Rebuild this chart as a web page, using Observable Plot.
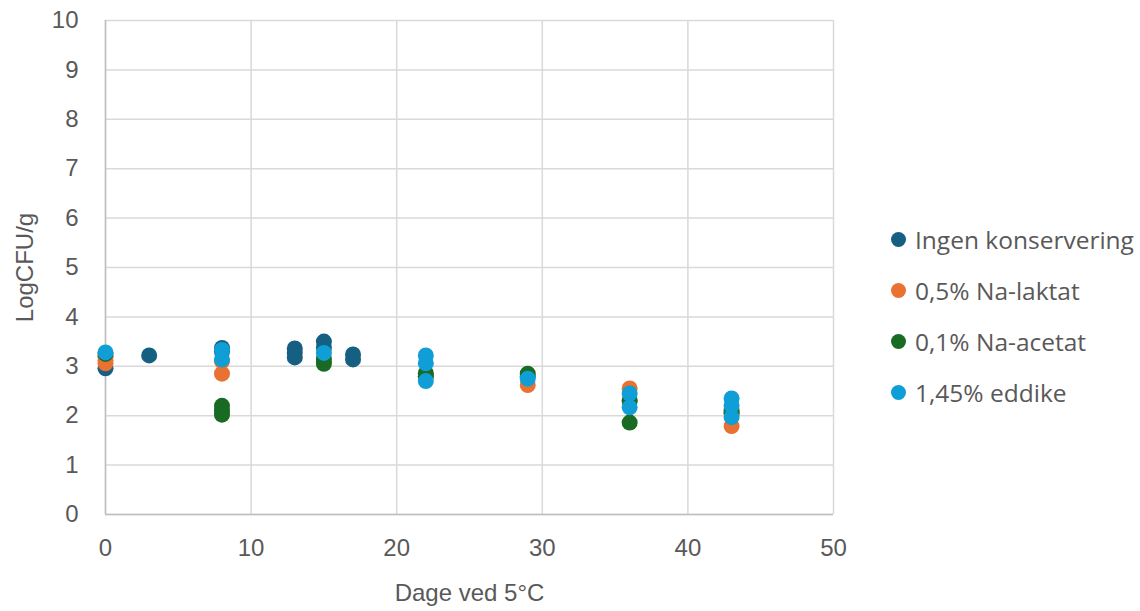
<!DOCTYPE html>
<html><head><meta charset="utf-8">
<script src="https://cdn.jsdelivr.net/npm/d3@7"></script>
<script src="https://cdn.jsdelivr.net/npm/@observablehq/plot@0.6"></script>
<style>
body{margin:0;background:#fff;}
#wrap{position:relative;width:1140px;height:611px;font-family:"Liberation Sans",Arial,sans-serif;}
#legend{position:absolute;left:891px;top:214px;font-family:"Open Sans","Noto Sans",sans-serif;font-size:24.5px;color:#595959;}
.li{display:flex;align-items:center;height:51px;white-space:nowrap;}
.sw{width:15px;height:15px;border-radius:50%;margin-right:9px;}
</style></head><body>
<div id="wrap"><div id="chart"></div><div id="legend"></div></div>
<script>
const seriesNames = ["Ingen konservering","0,5% Na-laktat","0,1% Na-acetat","1,45% eddike"];
const seriesColors = ["#156082","#E97132","#196B24","#0F9ED5"];

const ingenDays = [0,0,3,8,8,13,13,13,15,15,17,17];
const ingenVals = [2.96,3.2,3.22,3.37,3.3,3.36,3.27,3.18,3.5,3.38,3.24,3.14];

const laktatDays = [0,0,8,8,15,22,29,36,36,43,43];
const laktatVals = [3.06,3.12,2.85,3.1,3.1,2.8,2.62,2.55,2.3,1.79,2.05];

const acetatDays = [0,8,8,8,15,15,22,22,29,29,36,36,43,43];
const acetatVals = [3.25,2.2,2.1,2.02,3.05,3.15,2.86,2.8,2.85,2.8,1.86,2.3,2.05,2.1];

const eddikeDays = [0,8,8,15,22,22,22,29,36,36,43,43,43];
const eddikeVals = [3.28,3.33,3.14,3.27,3.22,3.06,2.7,2.75,2.45,2.17,2.35,1.97,2.2];

const xTicks = [0,10,20,30,40,50];
const yTicks = [0,1,2,3,4,5,6,7,8,9,10];

const allDays = [ingenDays,laktatDays,acetatDays,eddikeDays];
const allVals = [ingenVals,laktatVals,acetatVals,eddikeVals];
const data = [];
allDays.forEach((ds,i)=>ds.forEach((d,j)=>data.push({s:seriesNames[i],x:d,y:allVals[i][j]})));

const chart = Plot.plot({
  width: 860, height: 611,
  marginLeft: 105, marginRight: 27, marginTop: 20, marginBottom: 97,
  style: {fontFamily: '"Liberation Sans",Arial,sans-serif', fontSize: "24px", color: "#595959", background: "#fff"},
  x: {domain: [0,50]},
  y: {domain: [0,10]},
  color: {domain: seriesNames, range: seriesColors},
  marks: [
    Plot.gridX(xTicks, {stroke: "#d9d9d9", strokeOpacity: 1, strokeWidth: 1.5}),
    Plot.gridY(yTicks, {stroke: "#d9d9d9", strokeOpacity: 1, strokeWidth: 1.5}),
    Plot.ruleX([0], {stroke: "#bfbfbf", strokeWidth: 1.5}),
    Plot.ruleY([0], {stroke: "#bfbfbf", strokeWidth: 1.5}),
    Plot.axisX(xTicks, {tickSize: 0, tickPadding: 24, fill: "#595959", label: "Dage ved 5°C", labelAnchor: "center", labelArrow: "none", labelOffset: 86, fontSize: 24}),
    Plot.axisY(yTicks, {tickSize: 0, tickPadding: 27, fill: "#595959", label: "LogCFU/g", labelAnchor: "center", labelArrow: "none", labelOffset: 90, fontSize: 24}),
    Plot.dot(data, {x: "x", y: "y", fill: "s", r: 8, stroke: null})
  ]
});
document.getElementById("chart").appendChild(chart);

const leg = document.getElementById("legend");
seriesNames.forEach((n,i)=>{
  const d = document.createElement("div"); d.className="li";
  const s = document.createElement("div"); s.className="sw"; s.style.background=seriesColors[i];
  const t = document.createElement("span"); t.textContent=n;
  d.appendChild(s); d.appendChild(t); leg.appendChild(d);
});
</script>
</body></html>
